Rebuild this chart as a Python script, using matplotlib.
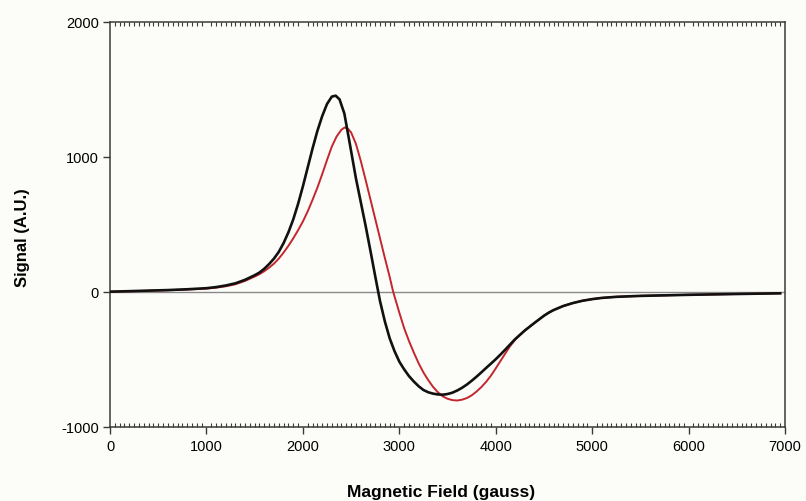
import matplotlib

matplotlib.use("Agg")

from matplotlib import pyplot as plt
from matplotlib.ticker import MultipleLocator

# values (field in gauss, signal in A.U.)
black_field = [0, 200, 400, 600, 800, 1000, 1100, 1200, 1300, 1400, 1450, 1500, 1550,
               1600, 1650, 1700, 1750, 1800, 1850, 1900, 1950, 2000, 2050, 2100, 2150,
               2200, 2250, 2300, 2340, 2380, 2430, 2487, 2550, 2600, 2650, 2700, 2750,
               2800, 2850, 2900, 2950, 3000, 3050, 3100, 3150, 3200, 3250, 3300, 3350,
               3400, 3450, 3500, 3550, 3600, 3650, 3700, 3750, 3800, 3850, 3900, 3950,
               4000, 4050, 4100, 4150, 4200, 4250, 4300, 4350, 4400, 4450, 4500, 4550,
               4600, 4700, 4800, 4900, 5000, 5100, 5250, 5500, 6000, 6500, 6950]
black_signal = [0, 4, 8, 12, 18, 26, 34, 46, 62, 88, 105, 122, 142,
                170, 205, 245, 295, 360, 440, 535, 650, 780, 920, 1060, 1190,
                1300, 1390, 1445, 1452, 1425, 1320, 1094, 840, 665, 490, 305, 115,
                -70, -220, -345, -440, -518, -575, -625, -665, -700, -728, -745, -755,
                -761, -763, -758, -748, -732, -712, -688, -660, -630, -598, -565, -533,
                -500, -465, -428, -390, -352, -320, -288, -260, -232, -205, -178, -155,
                -136, -106, -84, -67, -55, -46, -38, -31, -23, -17, -12]

red_field = [0, 200, 400, 600, 800, 1000, 1100, 1200, 1300, 1400, 1450, 1500, 1550,
             1600, 1650, 1700, 1750, 1800, 1850, 1900, 1950, 2000, 2050, 2100, 2150,
             2200, 2250, 2300, 2350, 2400, 2435, 2470, 2500, 2550, 2600, 2650, 2700,
             2750, 2800, 2850, 2900, 2936, 3000, 3050, 3100, 3150, 3200, 3250, 3300,
             3350, 3400, 3450, 3500, 3550, 3600, 3650, 3700, 3750, 3800, 3850, 3900,
             3950, 4000, 4050, 4100, 4150, 4200, 4250, 4300, 4350, 4400, 4450, 4500,
             4550, 4600, 4700, 4800, 4900, 5000, 5100, 5250, 5500, 6000, 6500, 6950]
red_signal = [0, 3, 7, 11, 16, 23, 30, 40, 55, 80, 96, 112, 130,
              152, 178, 208, 245, 290, 340, 395, 455, 520, 595, 680, 770,
              870, 975, 1075, 1150, 1200, 1217, 1205, 1180, 1095, 970, 830, 685,
              540, 395, 250, 110, 0, -155, -270, -365, -450, -530, -598, -655,
              -705, -745, -775, -793, -803, -806, -800, -788, -768, -740, -707, -668,
              -622, -568, -512, -456, -402, -357, -322, -289, -260, -232, -205, -178,
              -155, -136, -106, -84, -67, -55, -46, -38, -31, -23, -17, -12]

x_ticks = [0, 1000, 2000, 3000, 4000, 5000, 6000, 7000]
y_ticks = [-1000, 0, 1000, 2000]

plt.rcParams["font.family"] = ["Liberation Sans", "DejaVu Sans"]
plt.rcParams["axes.unicode_minus"] = False

bg = "#fcfcf9"
axis_color = "#3a3a3a"

fig = plt.figure(figsize=(8.06, 5.02), dpi=100, facecolor=bg)
ax = fig.add_axes([0.1365, 0.148, 0.8375, 0.8068], facecolor=bg)

ax.axhline(0, color="#8a8a8a", linewidth=1.0, zorder=1)
ax.plot(red_field, red_signal, color="#c4262e", linewidth=1.4, zorder=2)
ax.plot(black_field, black_signal, color="#111111", linewidth=1.9, zorder=3)

ax.set_xlim(0, 7000)
ax.set_ylim(-1000, 2000)
ax.set_xticks(x_ticks)
ax.set_yticks(y_ticks)
ax.xaxis.set_minor_locator(MultipleLocator(50))

for side in ["left", "right", "top", "bottom"]:
    ax.spines[side].set_color(axis_color)
    ax.spines[side].set_linewidth(1.1)

ax.tick_params(axis="x", which="major", direction="out", length=5, width=1.0,
               color=axis_color, labelsize=10.5, pad=4, top=True, labeltop=False)
ax.tick_params(axis="x", which="minor", direction="in", length=3, width=0.8,
               color=axis_color, top=True, bottom=True)
for t in ax.xaxis.get_major_ticks():
    t.tick2line.set_markersize(0)
ax.tick_params(axis="y", which="major", direction="out", length=5, width=1.0,
               color=axis_color, labelsize=10.5, pad=3)

ax.set_xlabel("Magnetic Field (gauss)", fontsize=12.5, fontweight="bold")
ax.set_ylabel("Signal (A.U.)", fontsize=12, fontweight="bold")
ax.xaxis.set_label_coords(0.49, -0.142)
ax.yaxis.set_label_coords(-0.119, 0.47)

fig.savefig("out.png", dpi=100, facecolor=bg)
